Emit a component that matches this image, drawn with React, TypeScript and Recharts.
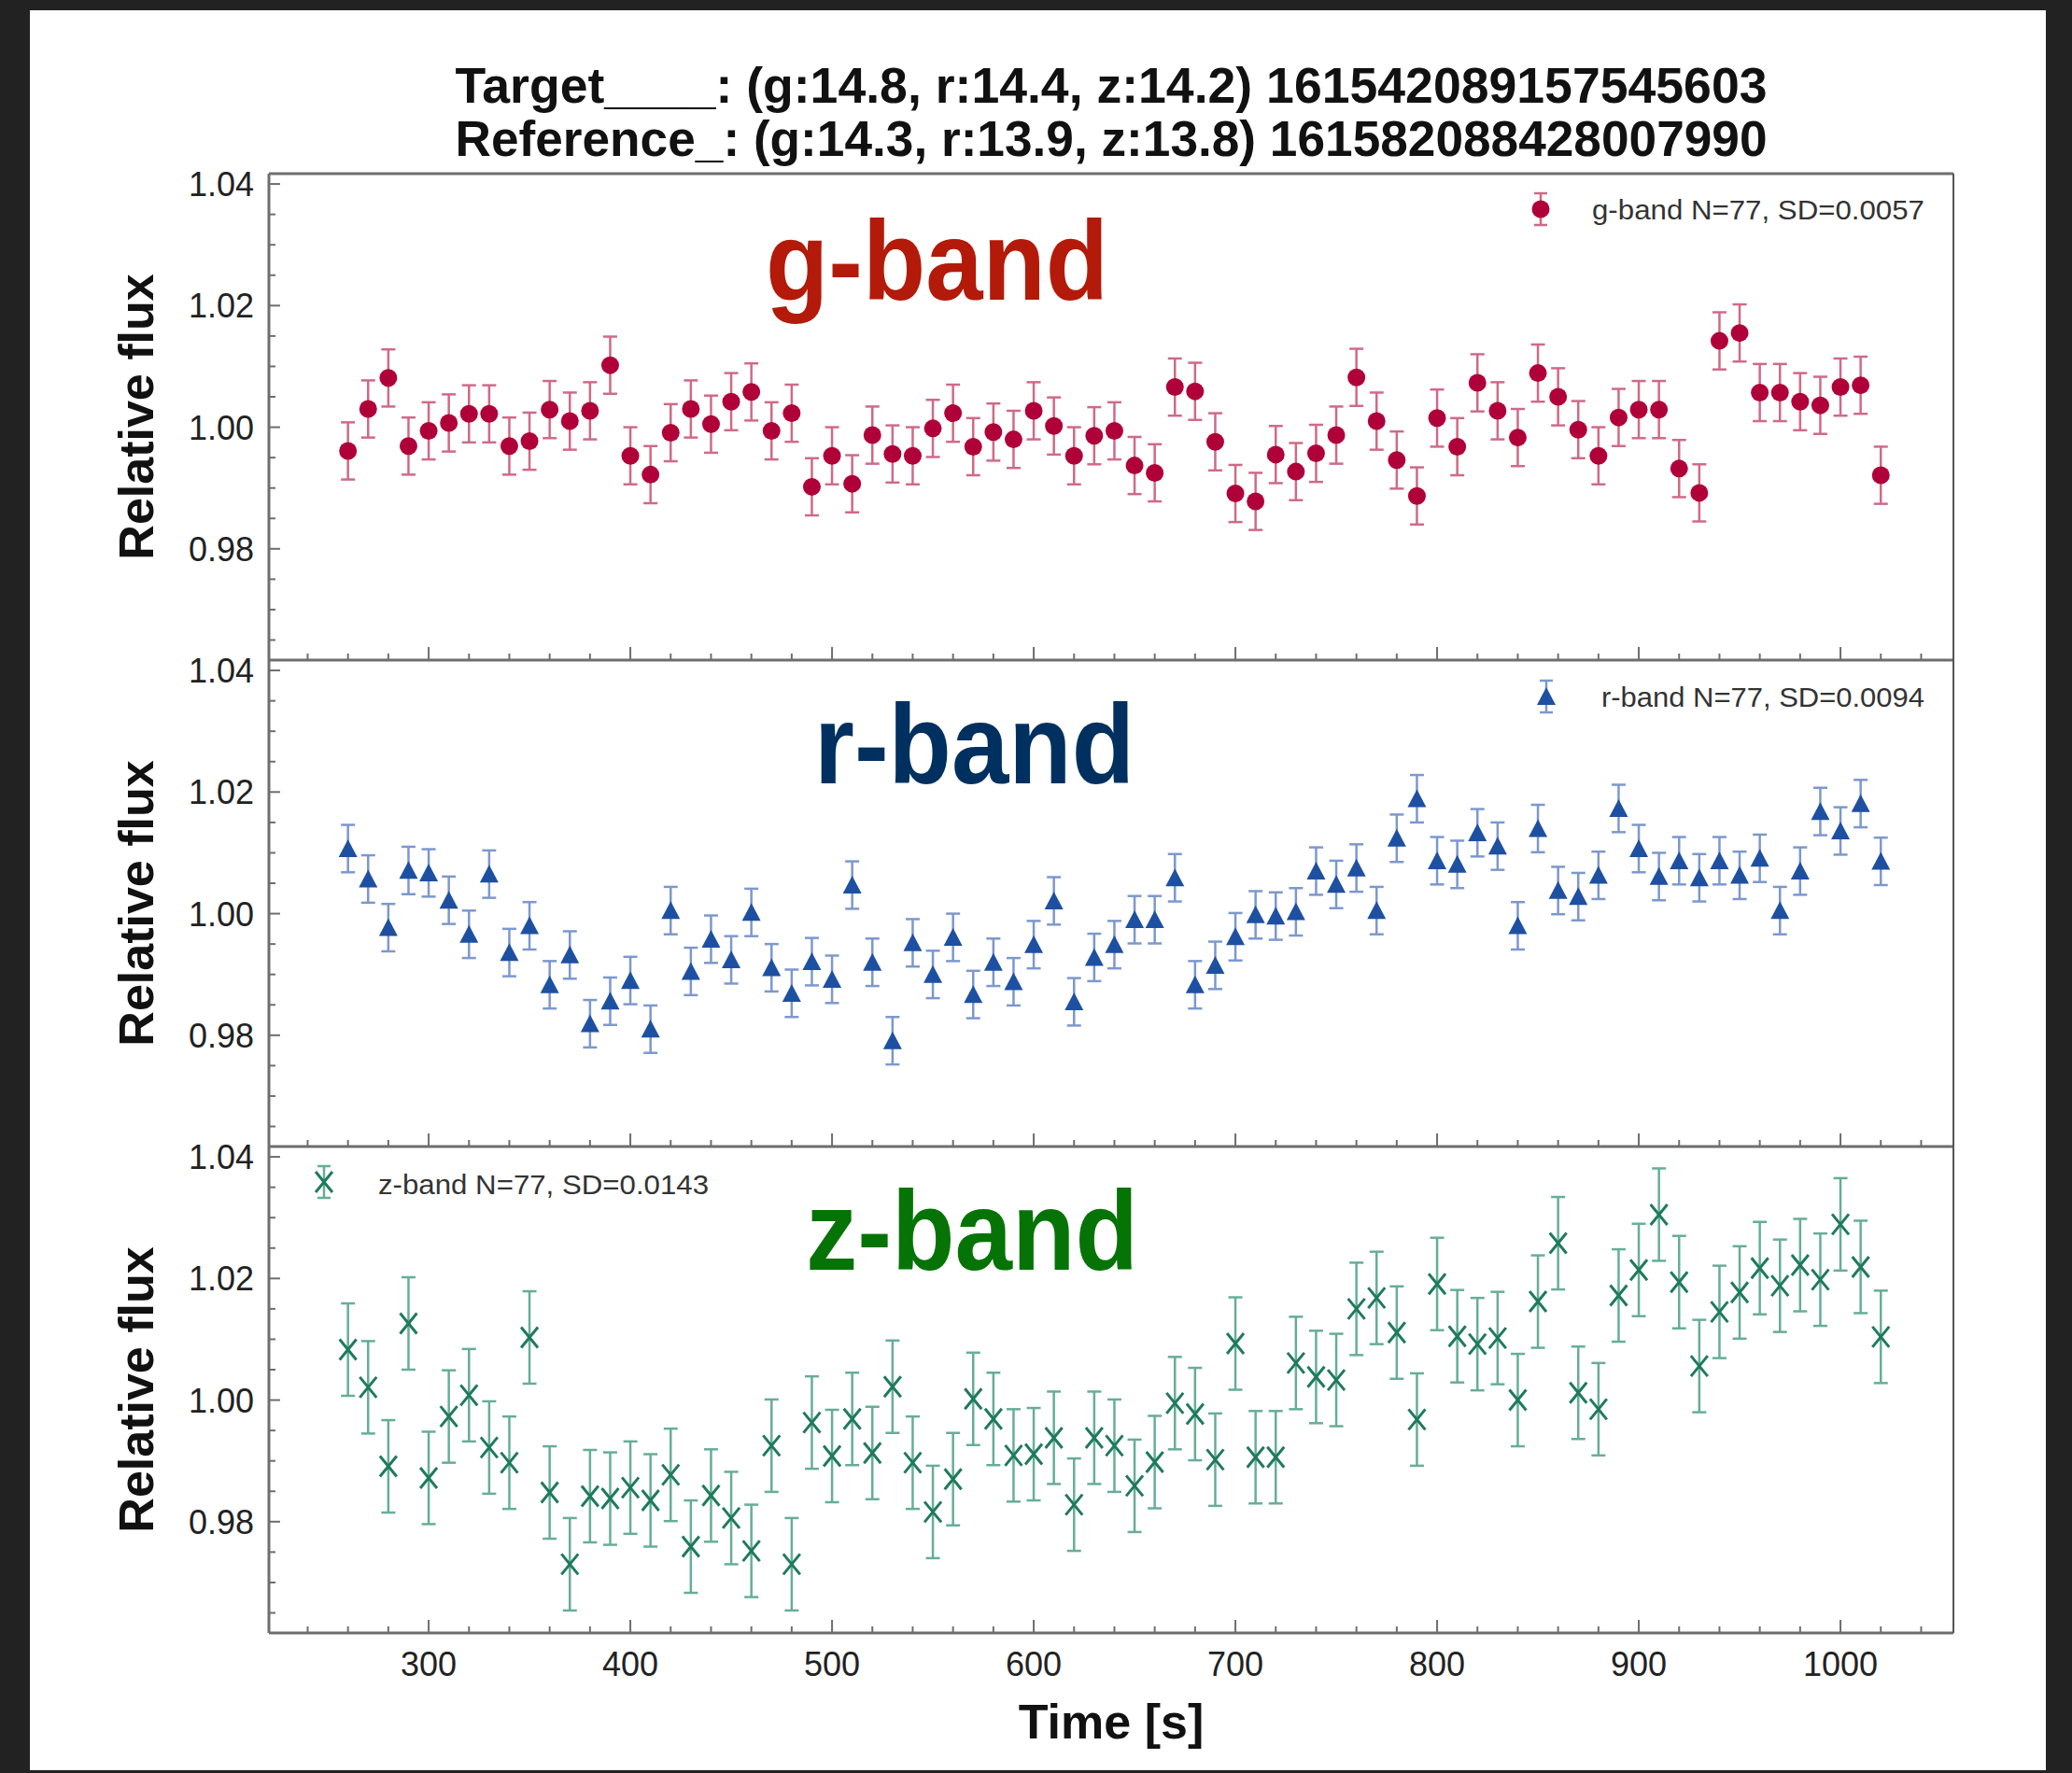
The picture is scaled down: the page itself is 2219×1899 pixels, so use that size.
import React from 'react';
import { ScatterChart, Scatter, XAxis, YAxis, ErrorBar } from 'recharts';

// time stamps [s], one per exposure (N=77)
const times = [
  260, 270, 280, 290, 300, 310, 320, 330, 340, 350, 360, 370, 380, 390, 400, 410, 420, 430, 440, 450,
  460, 470, 480, 490, 500, 510, 520, 530, 540, 550, 560, 570, 580, 590, 600, 610, 620, 630, 640, 650,
  660, 670, 680, 690, 700, 710, 720, 730, 740, 750, 760, 770, 780, 790, 800, 810, 820, 830, 840, 850,
  860, 870, 880, 890, 900, 910, 920, 930, 940, 950, 960, 970, 980, 990, 1000, 1010, 1020,
];

const gFlux = [
  0.9961, 1.003, 1.0081, 0.9969, 0.9994, 1.0007, 1.0022, 1.0022, 0.9969, 0.9977, 1.0029, 1.001, 1.0027, 1.0102, 0.9953, 0.9922, 0.9991, 1.003, 1.0005, 1.0042,
  1.0058, 0.9994, 1.0023, 0.9902, 0.9953, 0.9907, 0.9987, 0.9956, 0.9953, 0.9998, 1.0023, 0.9968, 0.9992, 0.998, 1.0027, 1.0002, 0.9953, 0.9986, 0.9994, 0.9937,
  0.9925, 1.0066, 1.0059, 0.9976, 0.9891, 0.9878, 0.9955, 0.9927, 0.9957, 0.9987, 1.0082, 1.001, 0.9946, 0.9887, 1.0015, 0.9968, 1.0073, 1.0027, 0.9983, 1.0089,
  1.005, 0.9996, 0.9953, 1.0016, 1.0029, 1.0029, 0.9932, 0.9892, 1.0142, 1.0155, 1.0057, 1.0057, 1.0042, 1.0036, 1.0066, 1.0069, 0.9921,
];

const rFlux = [
  1.0107, 1.0057, 0.9977, 1.0071, 1.0067, 1.0022, 0.9966, 1.0065, 0.9936, 0.998, 0.9883, 0.9932, 0.9819, 0.9856, 0.989, 0.981, 1.0005, 0.9905, 0.9958, 0.9924,
  1.0002, 0.9911, 0.9869, 0.9921, 0.9892, 1.0047, 0.992, 0.9791, 0.9952, 0.99, 0.9961, 0.9867, 0.992, 0.9888, 0.9949, 1.0021, 0.9855, 0.9928, 0.9949, 0.999,
  0.999, 1.0059, 0.9883, 0.9915, 0.9962, 0.9998, 0.9996, 1.0003, 1.007, 1.0048, 1.0075, 1.0005, 1.0124, 1.0189, 1.0087, 1.0081, 1.0133, 1.0111, 0.998, 1.014,
  1.0038, 1.0028, 1.0063, 1.0173, 1.0107, 1.0061, 1.0087, 1.0059, 1.0087, 1.0063, 1.0091, 1.0005, 1.007, 1.0168, 1.0136, 1.0181, 1.0086,
];

const zFlux = [
  1.0083, 1.0021, 0.9891, 1.0126, 0.9872, 0.9973, 1.0008, 0.9922, 0.9897, 1.0103, 0.9848, 0.973, 0.9842, 0.9838, 0.9856, 0.9835, 0.9877, 0.9759, 0.9843, 0.9806,
  0.9752, 0.9925, 0.973, 0.9963, 0.9908, 0.9969, 0.9913, 1.0022, 0.9897, 0.9816, 0.987, 1.0002, 0.9969, 0.9909, 0.9911, 0.9938, 0.9828, 0.9938, 0.9925, 0.9859,
  0.9898, 0.9995, 0.9977, 0.9902, 1.0093, 0.9906, 0.9906, 1.0061, 1.0038, 1.0033, 1.015, 1.0168, 1.0111, 0.9968, 1.0191, 1.0105, 1.0092, 1.0102, 1.0, 1.0162,
  1.0258, 1.0012, 0.9985, 1.0172, 1.0214, 1.0305, 1.0194, 1.0056, 1.0145, 1.0177, 1.0217, 1.0188, 1.0222, 1.0198, 1.0289, 1.0219, 1.0104,
];

// error bar half-lengths (look uniform per band)
const gErr = 0.0047;
const rErr = 0.0039;
const zErr = 0.0076;

const xTicks = [
  240, 260, 280, 300, 320, 340, 360, 380, 400, 420, 440, 460, 480, 500, 520, 540, 560, 580, 600, 620, 640,
  660, 680, 700, 720, 740, 760, 780, 800, 820, 840, 860, 880, 900, 920, 940, 960, 980, 1000, 1020, 1040,
];
const yTicks = [0.965, 0.97, 0.975, 0.98, 0.985, 0.99, 0.995, 1.0, 1.005, 1.01, 1.015, 1.02, 1.025, 1.03, 1.035, 1.04];

const titleLines = [
  'Target____: (g:14.8, r:14.4, z:14.2) 161542089157545603',
  'Reference_: (g:14.3, r:13.9, z:13.8) 161582088428007990',
];

const W = 2219;
const H = 1899;
const PLOT_L = 288;
const PLOT_R = 2092;
const PANEL_H = 521;
const PANEL_TOPS = [186, 707, 1228];
const Y_AXIS_W = 100;
const M_TOP = 20;
const M_BOTTOM = 10;
const FONT = '"Liberation Sans", Arial, Helvetica, sans-serif';
const FRAME = '#6e6e6e';

const toRows = (vals: number[], err: number) => vals.map((v, i) => ({ t: times[i], v, e: err }));

const XTick = (props: any, showLabel: boolean) => {
  const { x, y, payload } = props;
  const major = payload.value % 100 === 0;
  return (
    <g>
      <line x1={x} y1={y} x2={x} y2={y - (major ? 14 : 7)} stroke={FRAME} strokeWidth={2} />
      {showLabel && major && (
        <text x={x} y={y + 46} textAnchor="middle" fontSize={36} fontFamily={FONT} fill="#222">
          {payload.value}
        </text>
      )}
    </g>
  );
};

const YTick = (props: any) => {
  const { x, y, payload } = props;
  const major = Math.round(payload.value * 1000) % 20 === 0;
  return (
    <g>
      <line x1={x} y1={y} x2={x + (major ? 12 : 7)} y2={y} stroke={FRAME} strokeWidth={2} />
      {major && (
        <text x={x - 16} y={y + 13} textAnchor="end" fontSize={36} fontFamily={FONT} fill="#222">
          {payload.value.toFixed(2)}
        </text>
      )}
    </g>
  );
};

const circleShape = (color: string) => (p: any) => <circle cx={p.cx} cy={p.cy} r={9.5} fill={color} />;
const triangleShape = (color: string) => (p: any) => (
  <polygon points={`${p.cx},${p.cy - 10} ${p.cx - 10},${p.cy + 9} ${p.cx + 10},${p.cy + 9}`} fill={color} />
);
const crossShape = (color: string) => (p: any) => (
  <g stroke={color} strokeWidth={3}>
    <line x1={p.cx - 9} y1={p.cy - 11} x2={p.cx + 9} y2={p.cy + 11} />
    <line x1={p.cx - 9} y1={p.cy + 11} x2={p.cx + 9} y2={p.cy - 11} />
  </g>
);

interface PanelProps {
  rows: { t: number; v: number; e: number }[];
  top: number;
  barColor: string;
  shape: (p: any) => React.ReactElement;
  showXLabels: boolean;
}

function BandPanel({ rows, top, barColor, shape, showXLabels }: PanelProps) {
  const xAxisH = showXLabels ? 70 : 1;
  return (
    <div style={{ position: 'absolute', left: 0, top: top - M_TOP }}>
      <ScatterChart
        width={W}
        height={PANEL_H + M_TOP + M_BOTTOM + xAxisH}
        margin={{ top: M_TOP, right: W - PLOT_R, bottom: M_BOTTOM, left: PLOT_L - Y_AXIS_W }}
      >
        <XAxis
          type="number"
          dataKey="t"
          domain={[220.8, 1056]}
          ticks={xTicks}
          interval={0}
          allowDataOverflow
          height={xAxisH}
          tickSize={0}
          tickMargin={0}
          tickLine={false}
          axisLine={{ stroke: FRAME, strokeWidth: 3 }}
          tick={(p: any) => XTick(p, showXLabels)}
        />
        <YAxis
          type="number"
          dataKey="v"
          domain={[0.9617, 1.0417]}
          ticks={yTicks}
          interval={0}
          allowDataOverflow
          width={Y_AXIS_W}
          tickSize={0}
          tickMargin={0}
          tickLine={false}
          axisLine={{ stroke: FRAME, strokeWidth: 3 }}
          tick={YTick}
        />
        <Scatter data={rows} shape={shape} isAnimationActive={false}>
          <ErrorBar dataKey="e" direction="y" width={7.5} stroke={barColor} strokeWidth={2.5} isAnimationActive={false} />
        </Scatter>
      </ScatterChart>
    </div>
  );
}

const LegendIcon = ({ x, y, half, barColor, children }: any) => (
  <g>
    <g stroke={barColor} strokeWidth={2.5}>
      <line x1={x} y1={y - half} x2={x} y2={y + half} />
      <line x1={x - 7} y1={y - half} x2={x + 7} y2={y - half} />
      <line x1={x - 7} y1={y + half} x2={x + 7} y2={y + half} />
    </g>
    {children}
  </g>
);

export default function App() {
  const gColor = '#B0003A';
  const rColor = '#1E50A2';
  const zColor = '#1F7A5C';
  const gBar = '#CF6A87';
  const rBar = '#7C98CE';
  const zBar = '#66AE96';

  return (
    <div style={{ position: 'absolute', left: 0, top: 0, width: W, height: H, background: '#222', overflow: 'hidden' }}>
      <div style={{ position: 'absolute', left: 32, top: 11, width: 2159, height: 1885, background: '#fff' }} />

      <BandPanel rows={toRows(gFlux, gErr)} top={PANEL_TOPS[0]} barColor={gBar} shape={circleShape(gColor)} showXLabels={false} />
      <BandPanel rows={toRows(rFlux, rErr)} top={PANEL_TOPS[1]} barColor={rBar} shape={triangleShape(rColor)} showXLabels={false} />
      <BandPanel rows={toRows(zFlux, zErr)} top={PANEL_TOPS[2]} barColor={zBar} shape={crossShape(zColor)} showXLabels />

      <svg width={W} height={H} style={{ position: 'absolute', left: 0, top: 0, pointerEvents: 'none' }} fontFamily={FONT}>
        {/* frame top + right */}
        <line x1={PLOT_L} y1={PANEL_TOPS[0]} x2={PLOT_R} y2={PANEL_TOPS[0]} stroke={FRAME} strokeWidth={3} />
        <line x1={PLOT_R} y1={PANEL_TOPS[0]} x2={PLOT_R} y2={PANEL_TOPS[2] + PANEL_H} stroke="#555" strokeWidth={2} />

        {titleLines.map((s, i) => (
          <text key={s} x={1190} y={110 + i * 57} textAnchor="middle" fontSize={53} fontWeight="bold" fill="#111"
            textLength={1405} lengthAdjust="spacingAndGlyphs">
            {s}
          </text>
        ))}

        <text x={820} y={321} fontSize={120} fontWeight="bold" fill="#B31A0A" textLength={367} lengthAdjust="spacingAndGlyphs">g-band</text>
        <text x={872} y={839} fontSize={120} fontWeight="bold" fill="#00305F" textLength={343} lengthAdjust="spacingAndGlyphs">r-band</text>
        <text x={863} y={1360} fontSize={120} fontWeight="bold" fill="#067306" textLength={356} lengthAdjust="spacingAndGlyphs">z-band</text>

        {PANEL_TOPS.map((t) => (
          <text key={t} x={164} y={t + PANEL_H / 2} transform={`rotate(-90 164 ${t + PANEL_H / 2})`}
            textAnchor="middle" fontSize={52} fontWeight="bold" fill="#111">
            Relative flux
          </text>
        ))}
        <text x={1190} y={1862} textAnchor="middle" fontSize={52} fontWeight="bold" fill="#111">Time [s]</text>

        <LegendIcon x={1650} y={224} half={17} barColor={gBar}>
          <circle cx={1650} cy={224} r={9.5} fill={gColor} />
        </LegendIcon>
        <text x={1705} y={235} fontSize={30} fill="#333" textLength={356} lengthAdjust="spacingAndGlyphs">g-band N=77, SD=0.0057</text>

        <LegendIcon x={1656} y={746} half={17} barColor={rBar}>
          <polygon points="1656,736 1646,755 1666,755" fill={rColor} />
        </LegendIcon>
        <text x={1715} y={757} fontSize={30} fill="#333" textLength={346} lengthAdjust="spacingAndGlyphs">r-band N=77, SD=0.0094</text>

        <LegendIcon x={347} y={1266} half={17} barColor={zBar}>
          <g stroke={zColor} strokeWidth={3}>
            <line x1={338} y1={1255} x2={356} y2={1277} />
            <line x1={338} y1={1277} x2={356} y2={1255} />
          </g>
        </LegendIcon>
        <text x={405} y={1279} fontSize={30} fill="#333" textLength={354} lengthAdjust="spacingAndGlyphs">z-band N=77, SD=0.0143</text>
      </svg>
    </div>
  );
}
